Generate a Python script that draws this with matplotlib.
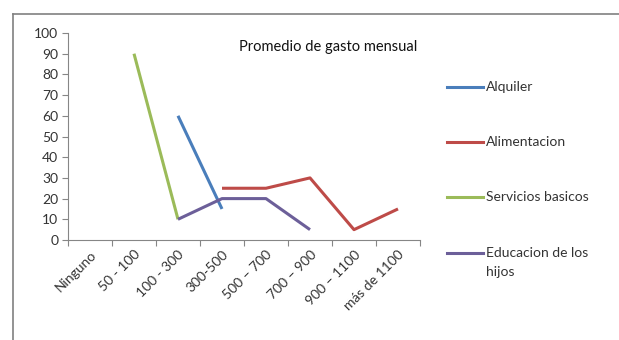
import matplotlib.pyplot as plt
import numpy as np
from matplotlib.lines import Line2D

plt.rcParams['font.family'] = ['Lato', 'DejaVu Sans']

categories = ["Ninguno", "50 - 100", "100 - 300", "300-500", "500 \u2013 700",
              "700 \u2013 900", "900 \u2013 1100", "m\u00e1s de 1100"]
nan = np.nan
alquiler = [nan, nan, 60, 15, nan, nan, nan, nan]
alimentacion = [nan, nan, nan, 25, 25, 30, 5, 15]
servicios = [nan, 90, 10, nan, nan, nan, nan, nan]
educacion = [nan, nan, 10, 20, 20, 5, nan, nan]

series = [
    ("Alquiler", alquiler, "#4A7EBB"),
    ("Alimentacion", alimentacion, "#BE4B48"),
    ("Servicios basicos", servicios, "#9BBB59"),
    ("Educacion de los\nhijos", educacion, "#6C5F99"),
]

fig = plt.figure(figsize=(6.19, 3.40), dpi=100)
ax = fig.add_axes([68 / 619, 1 - 240 / 340, (420 - 68) / 619, (240 - 33) / 340])

x = np.arange(len(categories))
for name, vals, color in series:
    ax.plot(x, vals, color=color, lw=2.2, solid_capstyle="butt")

ax.set_xlim(-0.5, len(categories) - 0.5)
ax.set_ylim(0, 100)
ax.set_yticks(range(0, 101, 10))
ax.set_xticks(np.arange(-0.5, len(categories), 1.0))
ax.set_xticklabels([])
ax.set_xticks(x, minor=True)
ax.set_xticklabels(categories, minor=True, rotation=45, ha="right",
                   rotation_mode="anchor", fontsize=10, color="#333333")
ax.tick_params(axis="x", which="minor", length=0, pad=6)
ax.tick_params(axis="x", which="major", length=4, direction="out", color="#868686")
ax.tick_params(axis="y", length=4, direction="out", color="#868686",
               labelsize=10, labelcolor="#333333", pad=3)
for s in ["top", "right"]:
    ax.spines[s].set_visible(False)
for s in ["left", "bottom"]:
    ax.spines[s].set_color("#868686")

fig.text(328 / 619, 1 - 47 / 340, "Promedio de gasto mensual", ha="center",
         va="center", fontsize=10.5, color="#111111")

# legend drawn by hand to match the spacing of the original
leg_y = [87, 142, 197, 253]
for (name, vals, color), yy in zip(series, leg_y):
    fy = 1 - yy / 340
    fig.add_artist(Line2D([447 / 619, 483 / 619], [fy, fy], color=color, lw=2.2))
    fig.text(486 / 619, fy, name.split("\n")[0], va="center", fontsize=10, color="#333333")
    if "\n" in name:
        fig.text(486 / 619, 1 - (yy + 19) / 340, name.split("\n")[1],
                 va="center", fontsize=10, color="#333333")

# chart border
fig.add_artist(Line2D([13 / 619, 13 / 619], [0, 1 - 14 / 340], color="#808080", lw=1.2))
fig.add_artist(Line2D([13 / 619, 1], [1 - 14 / 340, 1 - 14 / 340], color="#808080", lw=1.2))

fig.savefig("out.png", dpi=100)
